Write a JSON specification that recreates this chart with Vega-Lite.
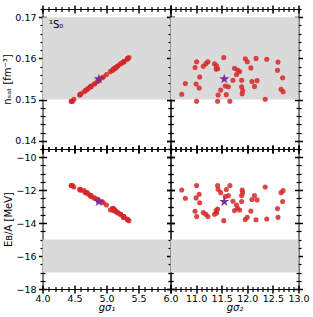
{
"$schema": "https://vega.github.io/schema/vega-lite/v6.json",
"padding": {"left": 1.5, "top": 3, "right": 0, "bottom": 0},
"background": "white",
"config": {
  "view": {"stroke": "black", "strokeWidth": 1},
  "font": "DejaVu Sans",
  "axis": {"domain": false, "grid": false, "zindex": 1, "ticks": true, "tickColor": "#000000", "tickOpacity": 1, "tickWidth": 1.5, "labelColor": "black", "titleColor": "black", "labelFont": "DejaVu Sans", "titleFont": "DejaVu Sans", "labelFontSize": 9.5, "titleFontSize": 10, "titleFontWeight": "normal", "labelFlush": false, "labelOverlap": false, "labelBound": false}
},
"datasets": {
  "bands": [{"nlo": 0.15, "nhi": 0.17, "elo": -17, "ehi": -15}],
  "star": [{"g1": 4.88, "g2": 11.55, "n": 0.155, "e": -12.7}],
  "lbl": [{"g1": 4.1, "n": 0.168, "t": "¹S₀"}],
  "pts": [
    {"g1": 4.59, "g2": 10.72, "n": 0.1513, "e": -11.99},
    {"g1": 4.82, "g2": 10.79, "n": 0.1539, "e": -12.49},
    {"g1": 5.15, "g2": 10.98, "n": 0.1578, "e": -13.28},
    {"g1": 5.27, "g2": 11.01, "n": 0.1592, "e": -13.6},
    {"g1": 4.81, "g2": 11.0, "n": 0.1538, "e": -12.47},
    {"g1": 4.72, "g2": 11.06, "n": 0.1528, "e": -12.25},
    {"g1": 4.45, "g2": 11.01, "n": 0.1496, "e": -11.72},
    {"g1": 4.95, "g2": 11.07, "n": 0.1555, "e": -12.76},
    {"g1": 5.17, "g2": 11.14, "n": 0.1581, "e": -13.36},
    {"g1": 5.22, "g2": 11.19, "n": 0.1587, "e": -13.46},
    {"g1": 5.27, "g2": 11.23, "n": 0.1592, "e": -13.6},
    {"g1": 5.22, "g2": 11.36, "n": 0.1587, "e": -13.46},
    {"g1": 5.18, "g2": 11.4, "n": 0.1582, "e": -13.38},
    {"g1": 5.12, "g2": 11.42, "n": 0.1575, "e": -13.14},
    {"g1": 5.35, "g2": 11.54, "n": 0.1602, "e": -13.85},
    {"g1": 4.68, "g2": 11.48, "n": 0.1523, "e": -12.15},
    {"g1": 4.58, "g2": 11.43, "n": 0.1511, "e": -11.95},
    {"g1": 4.45, "g2": 11.42, "n": 0.1496, "e": -11.72},
    {"g1": 4.59, "g2": 11.59, "n": 0.1512, "e": -11.96},
    {"g1": 4.47, "g2": 11.66, "n": 0.1496, "e": -11.72},
    {"g1": 4.75, "g2": 11.63, "n": 0.1531, "e": -12.33},
    {"g1": 4.88, "g2": 11.72, "n": 0.1547, "e": -12.67},
    {"g1": 5.13, "g2": 11.75, "n": 0.1576, "e": -13.24},
    {"g1": 5.1, "g2": 11.81, "n": 0.1572, "e": -13.1},
    {"g1": 5.06, "g2": 11.85, "n": 0.1568, "e": -13.2},
    {"g1": 5.0, "g2": 11.79, "n": 0.1561, "e": -12.9},
    {"g1": 4.88, "g2": 11.89, "n": 0.1547, "e": -12.69},
    {"g1": 4.75, "g2": 11.89, "n": 0.1531, "e": -12.33},
    {"g1": 4.67, "g2": 11.91, "n": 0.1522, "e": -12.15},
    {"g1": 4.6, "g2": 11.9, "n": 0.1514, "e": -11.99},
    {"g1": 5.33, "g2": 11.96, "n": 0.1599, "e": -13.78},
    {"g1": 5.27, "g2": 12.0, "n": 0.1592, "e": -13.65},
    {"g1": 5.14, "g2": 12.07, "n": 0.1577, "e": -13.27},
    {"g1": 4.86, "g2": 12.09, "n": 0.1544, "e": -12.57},
    {"g1": 4.87, "g2": 12.19, "n": 0.1546, "e": -12.59},
    {"g1": 4.76, "g2": 12.14, "n": 0.1532, "e": -12.33},
    {"g1": 5.33, "g2": 12.17, "n": 0.16, "e": -13.8},
    {"g1": 5.32, "g2": 12.38, "n": 0.1598, "e": -13.75},
    {"g1": 4.49, "g2": 12.35, "n": 0.1501, "e": -11.81},
    {"g1": 5.26, "g2": 12.6, "n": 0.1591, "e": -13.65},
    {"g1": 5.09, "g2": 12.59, "n": 0.1571, "e": -13.12},
    {"g1": 4.93, "g2": 12.69, "n": 0.1553, "e": -12.69},
    {"g1": 4.7, "g2": 12.66, "n": 0.1525, "e": -12.15},
    {"g1": 4.65, "g2": 12.7, "n": 0.1519, "e": -12.03},
    {"g1": 5.11, "g2": 11.39, "n": 0.1574, "e": -13.24},
    {"g1": 4.76, "g2": 11.57, "n": 0.1533, "e": -12.39}
  ]
},
"columns": 2,
"spacing": 0,
"bounds": "flush",
"concat": [
  {
    "width": 128, "height": 140,
    "resolve": {"axis": {"x": "independent", "y": "independent"}},
    "layer": [
      {"data": {"name": "bands"}, "mark": {"type": "rect", "color": "#dadada"},
       "encoding": {"y": {"field": "nlo", "type": "quantitative", "scale": {"domain": [0.138, 0.172], "nice": false, "zero": false}, "axis": null}, "y2": {"field": "nhi"}}},
      {"data": {"name": "pts"}, "mark": {"type": "circle", "size": 26, "color": "#d62728", "opacity": 0.85},
       "encoding": {
         "x": {"field": "g1", "type": "quantitative", "scale": {"domain": [4, 6], "nice": false, "zero": false}, "axis": {"orient": "bottom", "values": [4, 4.5, 5, 5.5, 6], "tickSize": 4, "labels": false, "title": null}},
         "y": {"field": "n", "type": "quantitative", "scale": {"domain": [0.138, 0.172], "nice": false, "zero": false}, "axis": {"orient": "left", "values": [0.14, 0.15, 0.16, 0.17], "tickSize": 4, "format": ".2f", "labelPadding": 2.5, "title": "nₛₐₜ [fm⁻³]", "titlePadding": 2.5}}}},
      {"data": {"name": "star"}, "mark": {"type": "point", "shape": "M0,-1L0.2245,-0.309L0.951,-0.309L0.363,0.118L0.588,0.809L0,0.382L-0.588,0.809L-0.363,0.118L-0.951,-0.309L-0.2245,-0.309Z", "filled": true, "size": 115, "color": "#7b2d9b", "opacity": 1},
       "encoding": {
         "x": {"field": "g1", "type": "quantitative", "scale": {"domain": [4, 6], "nice": false, "zero": false}, "axis": {"orient": "top", "values": [4, 4.5, 5, 5.5, 6], "tickSize": 4, "labels": false, "title": null}},
         "y": {"field": "n", "type": "quantitative", "scale": {"domain": [0.138, 0.172], "nice": false, "zero": false}, "axis": {"orient": "right", "values": [0.14, 0.15, 0.16, 0.17], "tickSize": 4, "labels": false, "title": null}}}},
      {"data": {"name": "star"}, "mark": {"type": "point", "opacity": 0},
       "encoding": {
         "x": {"field": "g1", "type": "quantitative", "scale": {"domain": [4, 6], "nice": false, "zero": false}, "axis": {"orient": "bottom", "values": [4, 4.5, 5, 5.5, 6], "tickSize": -4, "labels": false, "title": null}},
         "y": {"field": "n", "type": "quantitative", "scale": {"domain": [0.138, 0.172], "nice": false, "zero": false}, "axis": {"orient": "left", "values": [0.14, 0.15, 0.16, 0.17], "tickSize": -4, "labels": false, "title": null}}}},
      {"data": {"name": "star"}, "mark": {"type": "point", "opacity": 0},
       "encoding": {
         "x": {"field": "g1", "type": "quantitative", "scale": {"domain": [4, 6], "nice": false, "zero": false}, "axis": {"orient": "top", "values": [4, 4.5, 5, 5.5, 6], "tickSize": -4, "labels": false, "title": null}},
         "y": {"field": "n", "type": "quantitative", "scale": {"domain": [0.138, 0.172], "nice": false, "zero": false}, "axis": {"orient": "right", "values": [0.14, 0.15, 0.16, 0.17], "tickSize": -4, "labels": false, "title": null}}}},
      {"data": {"name": "star"}, "mark": {"type": "point", "opacity": 0},
       "encoding": {
         "x": {"field": "g1", "type": "quantitative", "scale": {"domain": [4, 6], "nice": false, "zero": false}, "axis": {"orient": "bottom", "values": [4.1, 4.2, 4.3, 4.4, 4.6, 4.7, 4.8, 4.9, 5.1, 5.2, 5.3, 5.4, 5.6, 5.7, 5.8, 5.9], "tickSize": 2.5, "tickWidth": 1.2, "labels": false, "title": null}},
         "y": {"field": "n", "type": "quantitative", "scale": {"domain": [0.138, 0.172], "nice": false, "zero": false}, "axis": {"orient": "left", "values": [0.138, 0.142, 0.144, 0.146, 0.148, 0.152, 0.154, 0.156, 0.158, 0.162, 0.164, 0.166, 0.168, 0.172], "tickSize": 2.5, "tickWidth": 1.2, "labels": false, "title": null}}}},
      {"data": {"name": "star"}, "mark": {"type": "point", "opacity": 0},
       "encoding": {
         "x": {"field": "g1", "type": "quantitative", "scale": {"domain": [4, 6], "nice": false, "zero": false}, "axis": {"orient": "top", "values": [4.1, 4.2, 4.3, 4.4, 4.6, 4.7, 4.8, 4.9, 5.1, 5.2, 5.3, 5.4, 5.6, 5.7, 5.8, 5.9], "tickSize": 2.5, "tickWidth": 1.2, "labels": false, "title": null}},
         "y": {"field": "n", "type": "quantitative", "scale": {"domain": [0.138, 0.172], "nice": false, "zero": false}, "axis": {"orient": "right", "values": [0.138, 0.142, 0.144, 0.146, 0.148, 0.152, 0.154, 0.156, 0.158, 0.162, 0.164, 0.166, 0.168, 0.172], "tickSize": 2.5, "tickWidth": 1.2, "labels": false, "title": null}}}},
      {"data": {"name": "star"}, "mark": {"type": "point", "opacity": 0},
       "encoding": {
         "x": {"field": "g1", "type": "quantitative", "scale": {"domain": [4, 6], "nice": false, "zero": false}, "axis": {"orient": "bottom", "values": [4.1, 4.2, 4.3, 4.4, 4.6, 4.7, 4.8, 4.9, 5.1, 5.2, 5.3, 5.4, 5.6, 5.7, 5.8, 5.9], "tickSize": -2.5, "tickWidth": 1.2, "labels": false, "title": null}},
         "y": {"field": "n", "type": "quantitative", "scale": {"domain": [0.138, 0.172], "nice": false, "zero": false}, "axis": {"orient": "left", "values": [0.138, 0.142, 0.144, 0.146, 0.148, 0.152, 0.154, 0.156, 0.158, 0.162, 0.164, 0.166, 0.168, 0.172], "tickSize": -2.5, "tickWidth": 1.2, "labels": false, "title": null}}}},
      {"data": {"name": "star"}, "mark": {"type": "point", "opacity": 0},
       "encoding": {
         "x": {"field": "g1", "type": "quantitative", "scale": {"domain": [4, 6], "nice": false, "zero": false}, "axis": {"orient": "top", "values": [4.1, 4.2, 4.3, 4.4, 4.6, 4.7, 4.8, 4.9, 5.1, 5.2, 5.3, 5.4, 5.6, 5.7, 5.8, 5.9], "tickSize": -2.5, "tickWidth": 1.2, "labels": false, "title": null}},
         "y": {"field": "n", "type": "quantitative", "scale": {"domain": [0.138, 0.172], "nice": false, "zero": false}, "axis": {"orient": "right", "values": [0.138, 0.142, 0.144, 0.146, 0.148, 0.152, 0.154, 0.156, 0.158, 0.162, 0.164, 0.166, 0.168, 0.172], "tickSize": -2.5, "tickWidth": 1.2, "labels": false, "title": null}}}},
      {"data": {"name": "lbl"}, "mark": {"type": "text", "align": "left", "baseline": "middle", "fontSize": 10, "font": "DejaVu Sans", "color": "black"},
       "encoding": {"x": {"field": "g1", "type": "quantitative", "axis": null}, "y": {"field": "n", "type": "quantitative", "axis": null}, "text": {"field": "t"}}}
    ]
  },
  {
    "width": 128, "height": 140,
    "resolve": {"axis": {"x": "independent", "y": "independent"}},
    "layer": [
      {"data": {"name": "bands"}, "mark": {"type": "rect", "color": "#dadada"},
       "encoding": {"y": {"field": "nlo", "type": "quantitative", "scale": {"domain": [0.138, 0.172], "nice": false, "zero": false}, "axis": null}, "y2": {"field": "nhi"}}},
      {"data": {"name": "pts"}, "mark": {"type": "circle", "size": 26, "color": "#d62728", "opacity": 0.85},
       "encoding": {
         "x": {"field": "g2", "type": "quantitative", "scale": {"domain": [10.5, 13], "nice": false, "zero": false}, "axis": {"orient": "bottom", "values": [10.5, 11, 11.5, 12, 12.5, 13], "tickSize": 4, "labels": false, "title": null}},
         "y": {"field": "n", "type": "quantitative", "scale": {"domain": [0.138, 0.172], "nice": false, "zero": false}, "axis": {"orient": "left", "values": [0.14, 0.15, 0.16, 0.17], "tickSize": 4, "labels": false, "title": null}}}},
      {"data": {"name": "star"}, "mark": {"type": "point", "shape": "M0,-1L0.2245,-0.309L0.951,-0.309L0.363,0.118L0.588,0.809L0,0.382L-0.588,0.809L-0.363,0.118L-0.951,-0.309L-0.2245,-0.309Z", "filled": true, "size": 115, "color": "#7b2d9b", "opacity": 1},
       "encoding": {
         "x": {"field": "g2", "type": "quantitative", "scale": {"domain": [10.5, 13], "nice": false, "zero": false}, "axis": {"orient": "top", "values": [10.5, 11, 11.5, 12, 12.5, 13], "tickSize": 4, "labels": false, "title": null}},
         "y": {"field": "n", "type": "quantitative", "scale": {"domain": [0.138, 0.172], "nice": false, "zero": false}, "axis": {"orient": "right", "values": [0.14, 0.15, 0.16, 0.17], "tickSize": 4, "labels": false, "title": null}}}},
      {"data": {"name": "star"}, "mark": {"type": "point", "opacity": 0},
       "encoding": {
         "x": {"field": "g2", "type": "quantitative", "scale": {"domain": [10.5, 13], "nice": false, "zero": false}, "axis": {"orient": "bottom", "values": [10.5, 11, 11.5, 12, 12.5, 13], "tickSize": -4, "labels": false, "title": null}},
         "y": {"field": "n", "type": "quantitative", "scale": {"domain": [0.138, 0.172], "nice": false, "zero": false}, "axis": {"orient": "left", "values": [0.14, 0.15, 0.16, 0.17], "tickSize": -4, "labels": false, "title": null}}}},
      {"data": {"name": "star"}, "mark": {"type": "point", "opacity": 0},
       "encoding": {
         "x": {"field": "g2", "type": "quantitative", "scale": {"domain": [10.5, 13], "nice": false, "zero": false}, "axis": {"orient": "top", "values": [10.5, 11, 11.5, 12, 12.5, 13], "tickSize": -4, "labels": false, "title": null}},
         "y": {"field": "n", "type": "quantitative", "scale": {"domain": [0.138, 0.172], "nice": false, "zero": false}, "axis": {"orient": "right", "values": [0.14, 0.15, 0.16, 0.17], "tickSize": -4, "labels": false, "title": null}}}},
      {"data": {"name": "star"}, "mark": {"type": "point", "opacity": 0},
       "encoding": {
         "x": {"field": "g2", "type": "quantitative", "scale": {"domain": [10.5, 13], "nice": false, "zero": false}, "axis": {"orient": "bottom", "values": [10.6, 10.7, 10.8, 10.9, 11.1, 11.2, 11.3, 11.4, 11.6, 11.7, 11.8, 11.9, 12.1, 12.2, 12.3, 12.4, 12.6, 12.7, 12.8, 12.9], "tickSize": 2.5, "tickWidth": 1.2, "labels": false, "title": null}},
         "y": {"field": "n", "type": "quantitative", "scale": {"domain": [0.138, 0.172], "nice": false, "zero": false}, "axis": {"orient": "left", "values": [0.138, 0.142, 0.144, 0.146, 0.148, 0.152, 0.154, 0.156, 0.158, 0.162, 0.164, 0.166, 0.168, 0.172], "tickSize": 2.5, "tickWidth": 1.2, "labels": false, "title": null}}}},
      {"data": {"name": "star"}, "mark": {"type": "point", "opacity": 0},
       "encoding": {
         "x": {"field": "g2", "type": "quantitative", "scale": {"domain": [10.5, 13], "nice": false, "zero": false}, "axis": {"orient": "top", "values": [10.6, 10.7, 10.8, 10.9, 11.1, 11.2, 11.3, 11.4, 11.6, 11.7, 11.8, 11.9, 12.1, 12.2, 12.3, 12.4, 12.6, 12.7, 12.8, 12.9], "tickSize": 2.5, "tickWidth": 1.2, "labels": false, "title": null}},
         "y": {"field": "n", "type": "quantitative", "scale": {"domain": [0.138, 0.172], "nice": false, "zero": false}, "axis": {"orient": "right", "values": [0.138, 0.142, 0.144, 0.146, 0.148, 0.152, 0.154, 0.156, 0.158, 0.162, 0.164, 0.166, 0.168, 0.172], "tickSize": 2.5, "tickWidth": 1.2, "labels": false, "title": null}}}},
      {"data": {"name": "star"}, "mark": {"type": "point", "opacity": 0},
       "encoding": {
         "x": {"field": "g2", "type": "quantitative", "scale": {"domain": [10.5, 13], "nice": false, "zero": false}, "axis": {"orient": "bottom", "values": [10.6, 10.7, 10.8, 10.9, 11.1, 11.2, 11.3, 11.4, 11.6, 11.7, 11.8, 11.9, 12.1, 12.2, 12.3, 12.4, 12.6, 12.7, 12.8, 12.9], "tickSize": -2.5, "tickWidth": 1.2, "labels": false, "title": null}},
         "y": {"field": "n", "type": "quantitative", "scale": {"domain": [0.138, 0.172], "nice": false, "zero": false}, "axis": {"orient": "left", "values": [0.138, 0.142, 0.144, 0.146, 0.148, 0.152, 0.154, 0.156, 0.158, 0.162, 0.164, 0.166, 0.168, 0.172], "tickSize": -2.5, "tickWidth": 1.2, "labels": false, "title": null}}}},
      {"data": {"name": "star"}, "mark": {"type": "point", "opacity": 0},
       "encoding": {
         "x": {"field": "g2", "type": "quantitative", "scale": {"domain": [10.5, 13], "nice": false, "zero": false}, "axis": {"orient": "top", "values": [10.6, 10.7, 10.8, 10.9, 11.1, 11.2, 11.3, 11.4, 11.6, 11.7, 11.8, 11.9, 12.1, 12.2, 12.3, 12.4, 12.6, 12.7, 12.8, 12.9], "tickSize": -2.5, "tickWidth": 1.2, "labels": false, "title": null}},
         "y": {"field": "n", "type": "quantitative", "scale": {"domain": [0.138, 0.172], "nice": false, "zero": false}, "axis": {"orient": "right", "values": [0.138, 0.142, 0.144, 0.146, 0.148, 0.152, 0.154, 0.156, 0.158, 0.162, 0.164, 0.166, 0.168, 0.172], "tickSize": -2.5, "tickWidth": 1.2, "labels": false, "title": null}}}}
    ]
  },
  {
    "width": 128, "height": 140,
    "resolve": {"axis": {"x": "independent", "y": "independent"}},
    "layer": [
      {"data": {"name": "bands"}, "mark": {"type": "rect", "color": "#dadada"},
       "encoding": {"y": {"field": "elo", "type": "quantitative", "scale": {"domain": [-18, -9.5], "nice": false, "zero": false}, "axis": null}, "y2": {"field": "ehi"}}},
      {"data": {"name": "pts"}, "mark": {"type": "circle", "size": 26, "color": "#d62728", "opacity": 0.85},
       "encoding": {
         "x": {"field": "g1", "type": "quantitative", "scale": {"domain": [4, 6], "nice": false, "zero": false}, "axis": {"orient": "bottom", "values": [4, 4.5, 5, 5.5, 6], "tickSize": 4, "format": ".1f", "labelPadding": 0, "title": "gσ₁", "titleFontStyle": "italic", "titlePadding": 0}},
         "y": {"field": "e", "type": "quantitative", "scale": {"domain": [-18, -9.5], "nice": false, "zero": false}, "axis": {"orient": "left", "values": [-18, -16, -14, -12, -10], "tickSize": 4, "format": "d", "labelPadding": 2.5, "title": "Eʙ/A [MeV]", "titlePadding": 2.5}}}},
      {"data": {"name": "star"}, "mark": {"type": "point", "shape": "M0,-1L0.2245,-0.309L0.951,-0.309L0.363,0.118L0.588,0.809L0,0.382L-0.588,0.809L-0.363,0.118L-0.951,-0.309L-0.2245,-0.309Z", "filled": true, "size": 115, "color": "#7b2d9b", "opacity": 1},
       "encoding": {
         "x": {"field": "g1", "type": "quantitative", "scale": {"domain": [4, 6], "nice": false, "zero": false}, "axis": {"orient": "top", "values": [4, 4.5, 5, 5.5, 6], "tickSize": 4, "labels": false, "title": null}},
         "y": {"field": "e", "type": "quantitative", "scale": {"domain": [-18, -9.5], "nice": false, "zero": false}, "axis": {"orient": "right", "values": [-18, -16, -14, -12, -10], "tickSize": 4, "labels": false, "title": null}}}},
      {"data": {"name": "star"}, "mark": {"type": "point", "opacity": 0},
       "encoding": {
         "x": {"field": "g1", "type": "quantitative", "scale": {"domain": [4, 6], "nice": false, "zero": false}, "axis": {"orient": "bottom", "values": [4, 4.5, 5, 5.5, 6], "tickSize": -4, "labels": false, "title": null}},
         "y": {"field": "e", "type": "quantitative", "scale": {"domain": [-18, -9.5], "nice": false, "zero": false}, "axis": {"orient": "left", "values": [-18, -16, -14, -12, -10], "tickSize": -4, "labels": false, "title": null}}}},
      {"data": {"name": "star"}, "mark": {"type": "point", "opacity": 0},
       "encoding": {
         "x": {"field": "g1", "type": "quantitative", "scale": {"domain": [4, 6], "nice": false, "zero": false}, "axis": {"orient": "top", "values": [4, 4.5, 5, 5.5, 6], "tickSize": -4, "labels": false, "title": null}},
         "y": {"field": "e", "type": "quantitative", "scale": {"domain": [-18, -9.5], "nice": false, "zero": false}, "axis": {"orient": "right", "values": [-18, -16, -14, -12, -10], "tickSize": -4, "labels": false, "title": null}}}},
      {"data": {"name": "star"}, "mark": {"type": "point", "opacity": 0},
       "encoding": {
         "x": {"field": "g1", "type": "quantitative", "scale": {"domain": [4, 6], "nice": false, "zero": false}, "axis": {"orient": "bottom", "values": [4.1, 4.2, 4.3, 4.4, 4.6, 4.7, 4.8, 4.9, 5.1, 5.2, 5.3, 5.4, 5.6, 5.7, 5.8, 5.9], "tickSize": 2.5, "tickWidth": 1.2, "labels": false, "title": null}},
         "y": {"field": "e", "type": "quantitative", "scale": {"domain": [-18, -9.5], "nice": false, "zero": false}, "axis": {"orient": "left", "values": [-17.5, -17, -16.5, -15.5, -15, -14.5, -13.5, -13, -12.5, -11.5, -11, -10.5, -9.5], "tickSize": 2.5, "tickWidth": 1.2, "labels": false, "title": null}}}},
      {"data": {"name": "star"}, "mark": {"type": "point", "opacity": 0},
       "encoding": {
         "x": {"field": "g1", "type": "quantitative", "scale": {"domain": [4, 6], "nice": false, "zero": false}, "axis": {"orient": "top", "values": [4.1, 4.2, 4.3, 4.4, 4.6, 4.7, 4.8, 4.9, 5.1, 5.2, 5.3, 5.4, 5.6, 5.7, 5.8, 5.9], "tickSize": 2.5, "tickWidth": 1.2, "labels": false, "title": null}},
         "y": {"field": "e", "type": "quantitative", "scale": {"domain": [-18, -9.5], "nice": false, "zero": false}, "axis": {"orient": "right", "values": [-17.5, -17, -16.5, -15.5, -15, -14.5, -13.5, -13, -12.5, -11.5, -11, -10.5, -9.5], "tickSize": 2.5, "tickWidth": 1.2, "labels": false, "title": null}}}},
      {"data": {"name": "star"}, "mark": {"type": "point", "opacity": 0},
       "encoding": {
         "x": {"field": "g1", "type": "quantitative", "scale": {"domain": [4, 6], "nice": false, "zero": false}, "axis": {"orient": "bottom", "values": [4.1, 4.2, 4.3, 4.4, 4.6, 4.7, 4.8, 4.9, 5.1, 5.2, 5.3, 5.4, 5.6, 5.7, 5.8, 5.9], "tickSize": -2.5, "tickWidth": 1.2, "labels": false, "title": null}},
         "y": {"field": "e", "type": "quantitative", "scale": {"domain": [-18, -9.5], "nice": false, "zero": false}, "axis": {"orient": "left", "values": [-17.5, -17, -16.5, -15.5, -15, -14.5, -13.5, -13, -12.5, -11.5, -11, -10.5, -9.5], "tickSize": -2.5, "tickWidth": 1.2, "labels": false, "title": null}}}},
      {"data": {"name": "star"}, "mark": {"type": "point", "opacity": 0},
       "encoding": {
         "x": {"field": "g1", "type": "quantitative", "scale": {"domain": [4, 6], "nice": false, "zero": false}, "axis": {"orient": "top", "values": [4.1, 4.2, 4.3, 4.4, 4.6, 4.7, 4.8, 4.9, 5.1, 5.2, 5.3, 5.4, 5.6, 5.7, 5.8, 5.9], "tickSize": -2.5, "tickWidth": 1.2, "labels": false, "title": null}},
         "y": {"field": "e", "type": "quantitative", "scale": {"domain": [-18, -9.5], "nice": false, "zero": false}, "axis": {"orient": "right", "values": [-17.5, -17, -16.5, -15.5, -15, -14.5, -13.5, -13, -12.5, -11.5, -11, -10.5, -9.5], "tickSize": -2.5, "tickWidth": 1.2, "labels": false, "title": null}}}}
    ]
  },
  {
    "width": 128, "height": 140,
    "resolve": {"axis": {"x": "independent", "y": "independent"}},
    "layer": [
      {"data": {"name": "bands"}, "mark": {"type": "rect", "color": "#dadada"},
       "encoding": {"y": {"field": "elo", "type": "quantitative", "scale": {"domain": [-18, -9.5], "nice": false, "zero": false}, "axis": null}, "y2": {"field": "ehi"}}},
      {"data": {"name": "pts"}, "mark": {"type": "circle", "size": 26, "color": "#d62728", "opacity": 0.85},
       "encoding": {
         "x": {"field": "g2", "type": "quantitative", "scale": {"domain": [10.5, 13], "nice": false, "zero": false}, "axis": {"orient": "bottom", "values": [10.5, 11, 11.5, 12, 12.5, 13], "tickSize": 4, "format": ".1f", "labelExpr": "datum.value == 10.5 ? '' : datum.label", "labelPadding": 0, "title": "gσ₂", "titleFontStyle": "italic", "titlePadding": 0}},
         "y": {"field": "e", "type": "quantitative", "scale": {"domain": [-18, -9.5], "nice": false, "zero": false}, "axis": {"orient": "left", "values": [-18, -16, -14, -12, -10], "tickSize": 4, "labels": false, "title": null}}}},
      {"data": {"name": "star"}, "mark": {"type": "point", "shape": "M0,-1L0.2245,-0.309L0.951,-0.309L0.363,0.118L0.588,0.809L0,0.382L-0.588,0.809L-0.363,0.118L-0.951,-0.309L-0.2245,-0.309Z", "filled": true, "size": 115, "color": "#7b2d9b", "opacity": 1},
       "encoding": {
         "x": {"field": "g2", "type": "quantitative", "scale": {"domain": [10.5, 13], "nice": false, "zero": false}, "axis": {"orient": "top", "values": [10.5, 11, 11.5, 12, 12.5, 13], "tickSize": 4, "labels": false, "title": null}},
         "y": {"field": "e", "type": "quantitative", "scale": {"domain": [-18, -9.5], "nice": false, "zero": false}, "axis": {"orient": "right", "values": [-18, -16, -14, -12, -10], "tickSize": 4, "labels": false, "title": null}}}},
      {"data": {"name": "star"}, "mark": {"type": "point", "opacity": 0},
       "encoding": {
         "x": {"field": "g2", "type": "quantitative", "scale": {"domain": [10.5, 13], "nice": false, "zero": false}, "axis": {"orient": "bottom", "values": [10.5, 11, 11.5, 12, 12.5, 13], "tickSize": -4, "labels": false, "title": null}},
         "y": {"field": "e", "type": "quantitative", "scale": {"domain": [-18, -9.5], "nice": false, "zero": false}, "axis": {"orient": "left", "values": [-18, -16, -14, -12, -10], "tickSize": -4, "labels": false, "title": null}}}},
      {"data": {"name": "star"}, "mark": {"type": "point", "opacity": 0},
       "encoding": {
         "x": {"field": "g2", "type": "quantitative", "scale": {"domain": [10.5, 13], "nice": false, "zero": false}, "axis": {"orient": "top", "values": [10.5, 11, 11.5, 12, 12.5, 13], "tickSize": -4, "labels": false, "title": null}},
         "y": {"field": "e", "type": "quantitative", "scale": {"domain": [-18, -9.5], "nice": false, "zero": false}, "axis": {"orient": "right", "values": [-18, -16, -14, -12, -10], "tickSize": -4, "labels": false, "title": null}}}},
      {"data": {"name": "star"}, "mark": {"type": "point", "opacity": 0},
       "encoding": {
         "x": {"field": "g2", "type": "quantitative", "scale": {"domain": [10.5, 13], "nice": false, "zero": false}, "axis": {"orient": "bottom", "values": [10.6, 10.7, 10.8, 10.9, 11.1, 11.2, 11.3, 11.4, 11.6, 11.7, 11.8, 11.9, 12.1, 12.2, 12.3, 12.4, 12.6, 12.7, 12.8, 12.9], "tickSize": 2.5, "tickWidth": 1.2, "labels": false, "title": null}},
         "y": {"field": "e", "type": "quantitative", "scale": {"domain": [-18, -9.5], "nice": false, "zero": false}, "axis": {"orient": "left", "values": [-17.5, -17, -16.5, -15.5, -15, -14.5, -13.5, -13, -12.5, -11.5, -11, -10.5, -9.5], "tickSize": 2.5, "tickWidth": 1.2, "labels": false, "title": null}}}},
      {"data": {"name": "star"}, "mark": {"type": "point", "opacity": 0},
       "encoding": {
         "x": {"field": "g2", "type": "quantitative", "scale": {"domain": [10.5, 13], "nice": false, "zero": false}, "axis": {"orient": "top", "values": [10.6, 10.7, 10.8, 10.9, 11.1, 11.2, 11.3, 11.4, 11.6, 11.7, 11.8, 11.9, 12.1, 12.2, 12.3, 12.4, 12.6, 12.7, 12.8, 12.9], "tickSize": 2.5, "tickWidth": 1.2, "labels": false, "title": null}},
         "y": {"field": "e", "type": "quantitative", "scale": {"domain": [-18, -9.5], "nice": false, "zero": false}, "axis": {"orient": "right", "values": [-17.5, -17, -16.5, -15.5, -15, -14.5, -13.5, -13, -12.5, -11.5, -11, -10.5, -9.5], "tickSize": 2.5, "tickWidth": 1.2, "labels": false, "title": null}}}},
      {"data": {"name": "star"}, "mark": {"type": "point", "opacity": 0},
       "encoding": {
         "x": {"field": "g2", "type": "quantitative", "scale": {"domain": [10.5, 13], "nice": false, "zero": false}, "axis": {"orient": "bottom", "values": [10.6, 10.7, 10.8, 10.9, 11.1, 11.2, 11.3, 11.4, 11.6, 11.7, 11.8, 11.9, 12.1, 12.2, 12.3, 12.4, 12.6, 12.7, 12.8, 12.9], "tickSize": -2.5, "tickWidth": 1.2, "labels": false, "title": null}},
         "y": {"field": "e", "type": "quantitative", "scale": {"domain": [-18, -9.5], "nice": false, "zero": false}, "axis": {"orient": "left", "values": [-17.5, -17, -16.5, -15.5, -15, -14.5, -13.5, -13, -12.5, -11.5, -11, -10.5, -9.5], "tickSize": -2.5, "tickWidth": 1.2, "labels": false, "title": null}}}},
      {"data": {"name": "star"}, "mark": {"type": "point", "opacity": 0},
       "encoding": {
         "x": {"field": "g2", "type": "quantitative", "scale": {"domain": [10.5, 13], "nice": false, "zero": false}, "axis": {"orient": "top", "values": [10.6, 10.7, 10.8, 10.9, 11.1, 11.2, 11.3, 11.4, 11.6, 11.7, 11.8, 11.9, 12.1, 12.2, 12.3, 12.4, 12.6, 12.7, 12.8, 12.9], "tickSize": -2.5, "tickWidth": 1.2, "labels": false, "title": null}},
         "y": {"field": "e", "type": "quantitative", "scale": {"domain": [-18, -9.5], "nice": false, "zero": false}, "axis": {"orient": "right", "values": [-17.5, -17, -16.5, -15.5, -15, -14.5, -13.5, -13, -12.5, -11.5, -11, -10.5, -9.5], "tickSize": -2.5, "tickWidth": 1.2, "labels": false, "title": null}}}}
    ]
  }
]
}
